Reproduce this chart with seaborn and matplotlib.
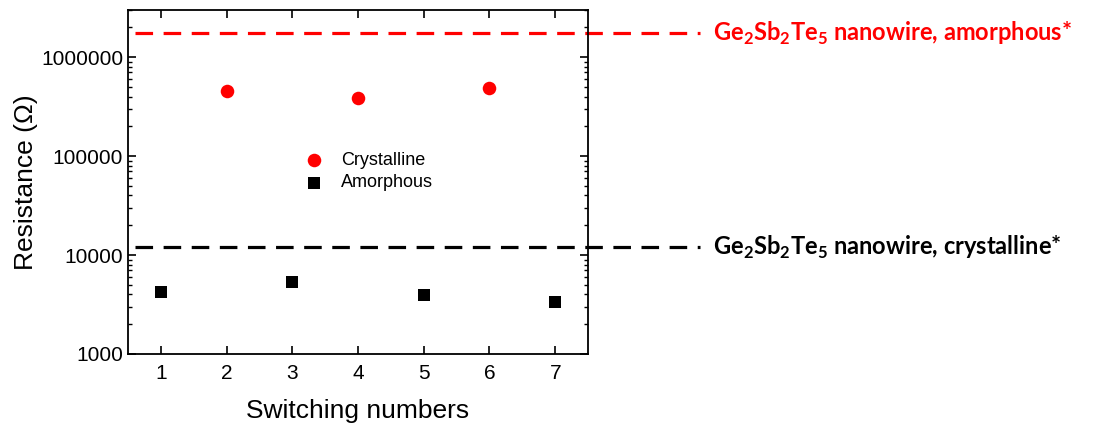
import matplotlib
matplotlib.use("Agg")
import matplotlib.pyplot as plt
import seaborn as sns
import pandas as pd

# resistance per switching cycle
cryst_x = [2, 4, 6]
cryst_r = [4.6e5, 3.9e5, 4.9e5]
amor_x = [1, 3, 5, 7]
amor_r = [4.2e3, 5.3e3, 3.9e3, 3.35e3]

# reference levels for nanowires
ref_amor = 1.75e6
ref_cryst = 1.2e4
ref_labels = [r"Ge$_\mathbf{2}$Sb$_\mathbf{2}$Te$_\mathbf{5}$ nanowire, amorphous*",
              r"Ge$_\mathbf{2}$Sb$_\mathbf{2}$Te$_\mathbf{5}$ nanowire, crystalline*"]

x_ticks = [1, 2, 3, 4, 5, 6, 7]
y_ticks = [1000, 10000, 100000, 1000000]

cryst = pd.DataFrame({"x": cryst_x, "R": cryst_r})
amor = pd.DataFrame({"x": amor_x, "R": amor_r})

sns.set_style("ticks", {"axes.edgecolor": "black", "xtick.color": "black",
                        "ytick.color": "black", "text.color": "black",
                        "axes.labelcolor": "black"})
plt.rcParams['font.family'] = ['Liberation Sans', 'DejaVu Sans']
plt.rcParams['mathtext.fontset'] = 'custom'
plt.rcParams['mathtext.rm'] = 'Lato'
plt.rcParams['mathtext.bf'] = 'Lato:bold'

fig = plt.figure(figsize=(11.15, 4.32), dpi=100)
ax = fig.add_axes([0.1148, 0.1806, 0.4126, 0.7964])

sns.scatterplot(data=cryst, x="x", y="R", color="#ff0000", marker="o",
                s=95, linewidth=0, ax=ax, zorder=3, label="Crystalline")
sns.scatterplot(data=amor, x="x", y="R", color="black", marker="s",
                s=65, linewidth=0, ax=ax, zorder=3, label="Amorphous")

ax.set_yscale("log")
ax.set_xlim(0.5, 7.5)
ax.set_ylim(1000, 3e6)
ax.set_xticks(x_ticks)
ax.set_yticks(y_ticks)
ax.set_yticklabels([str(v) for v in y_ticks])
ax.minorticks_on()
ax.xaxis.set_minor_locator(matplotlib.ticker.NullLocator())
ax.tick_params(which="both", direction="in", top=True, right=True, labelsize=15)
ax.tick_params(which="major", length=6, width=1.2)
ax.tick_params(axis="x", which="major", pad=7)
ax.tick_params(which="minor", length=3, width=1)
for sp in ax.spines.values():
    sp.set_linewidth(1.3)

# dashed reference lines running out past the axes
ax.plot([0.6, 9.2], [ref_amor, ref_amor], color="#ff0000", lw=2.3,
        dashes=(5.5, 3.3), clip_on=False)
ax.plot([0.6, 9.2], [ref_cryst, ref_cryst], color="black", lw=2.3,
        dashes=(5.5, 3.3), clip_on=False)
ax.text(9.4, ref_amor, ref_labels[0], color="#ff0000", fontsize=17,
        fontweight="bold", family="Lato", va="center", ha="left", clip_on=False)
ax.text(9.4, ref_cryst, ref_labels[1], color="black", fontsize=17,
        fontweight="bold", family="Lato", va="center", ha="left", clip_on=False)

ax.set_xlabel("Switching numbers", fontsize=19, labelpad=12)
ax.set_ylabel("Resistance (\u03a9)", fontsize=19, labelpad=2)

ax.legend(loc="center left", bbox_to_anchor=(0.33, 0.53), frameon=False,
          fontsize=13, handletextpad=0.5, labelspacing=0.3)

fig.savefig("out.png", dpi=100)
